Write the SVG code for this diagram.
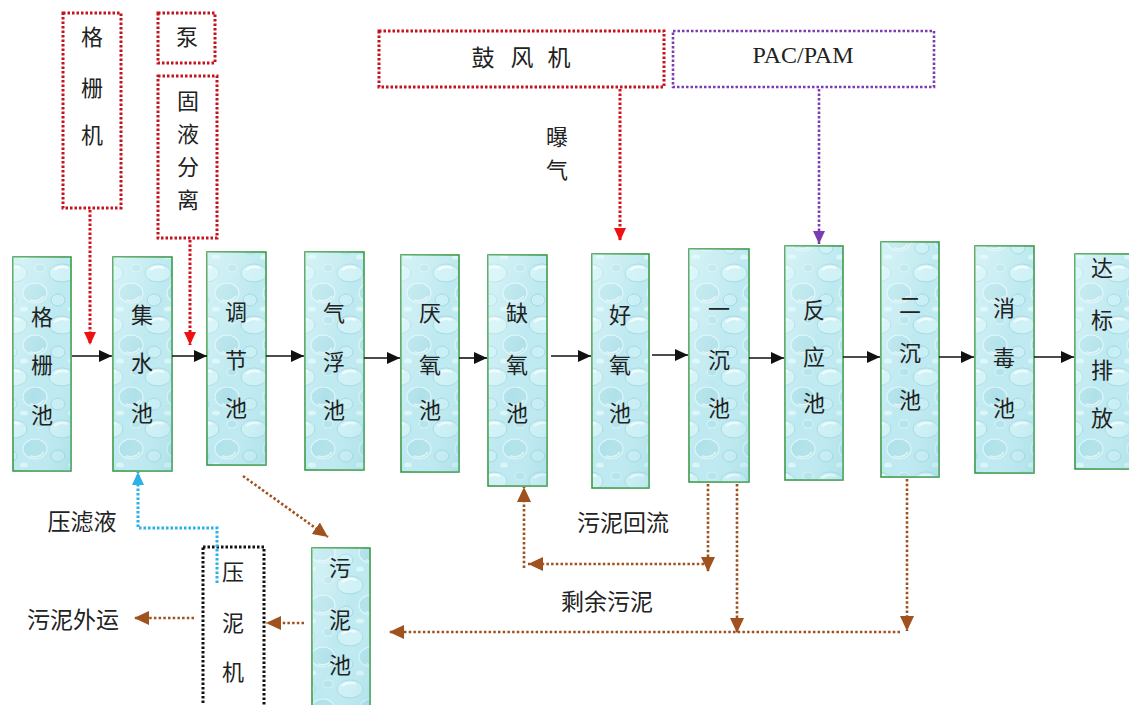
<svg xmlns="http://www.w3.org/2000/svg" width="1129" height="705" viewBox="0 0 1129 705">
<defs>
<pattern id="water" patternUnits="userSpaceOnUse" width="48" height="52">
<rect width="48" height="52" fill="#bde9f0"/>
<ellipse cx="14" cy="13" rx="13" ry="9" fill="#cff2f6" stroke="#a3d9e3" stroke-width="1"/>
<path d="M6,10 Q12,5 20,8" fill="none" stroke="#ffffff" stroke-width="2" opacity="0.75"/>
<ellipse cx="35" cy="33" rx="12" ry="10" fill="#afe1ea" stroke="#dcf7fa" stroke-width="1.2"/>
<path d="M30,40 Q38,43 44,36" fill="none" stroke="#ffffff" stroke-width="1.8" opacity="0.6"/>
<ellipse cx="10" cy="40" rx="7" ry="6" fill="#c8eff5" stroke="#a0d7e1" stroke-width="1"/>
<ellipse cx="40" cy="8" rx="5" ry="4" fill="#b3e3eb" stroke="#e0f8fb" stroke-width="0.8"/>
<ellipse cx="24" cy="49" rx="4" ry="2.5" fill="#d9f6f9"/>
</pattern>
<linearGradient id="shade" x1="0" y1="0" x2="1" y2="1">
<stop offset="0" stop-color="#eafcfd" stop-opacity="0.5"/>
<stop offset="0.5" stop-color="#ffffff" stop-opacity="0"/>
<stop offset="1" stop-color="#86cdda" stop-opacity="0.3"/>
</linearGradient>
<marker id="ab" markerUnits="userSpaceOnUse" markerWidth="14" markerHeight="12" refX="13" refY="6" orient="auto"><path d="M0,0 L13,6 L0,12 Z" fill="#111"/></marker>
<marker id="ar" markerUnits="userSpaceOnUse" markerWidth="14" markerHeight="12" refX="13" refY="6" orient="auto"><path d="M0,0 L13,6 L0,12 Z" fill="#ee1111"/></marker>
<marker id="ap" markerUnits="userSpaceOnUse" markerWidth="14" markerHeight="12" refX="13" refY="6" orient="auto"><path d="M0,0 L13,6 L0,12 Z" fill="#7a3db0"/></marker>
<marker id="an" markerUnits="userSpaceOnUse" markerWidth="16" markerHeight="14" refX="15" refY="7" orient="auto"><path d="M0,0 L15,7 L0,14 Z" fill="#a0521e"/></marker>
<marker id="ac" markerUnits="userSpaceOnUse" markerWidth="14" markerHeight="12" refX="13" refY="6" orient="auto"><path d="M0,0 L13,6 L0,12 Z" fill="#2bb0e8"/></marker>
</defs>
<style>
.tank{fill:url(#water);stroke:#3c9a48;stroke-width:1.6}
.sh{fill:url(#shade);stroke:none}
.t{font-family:"Noto Sans CJK SC","Noto Sans CJK TC",sans-serif;font-size:22px;fill:#222;text-anchor:middle}
.l{font-family:"Noto Sans CJK SC","Noto Sans CJK TC",sans-serif;font-size:23px;fill:#222;text-anchor:middle}
.en{font-family:"Liberation Serif",serif;font-size:24px;fill:#222;text-anchor:middle}
.rbox{fill:none;stroke:#c4121e;stroke-width:3;stroke-dasharray:2.5 2}
.pbox{fill:none;stroke:#7a3db0;stroke-width:2.6;stroke-dasharray:2.5 2}
.kbox{fill:none;stroke:#111;stroke-width:3;stroke-dasharray:2.5 2}
.solid{fill:none;stroke:#111;stroke-width:1.6}
.rd{fill:none;stroke:#d3101c;stroke-width:3;stroke-dasharray:2.5 2}
.pd{fill:none;stroke:#7a3db0;stroke-width:2.6;stroke-dasharray:2.5 2}
.bd{fill:none;stroke:#a0521e;stroke-width:2.6;stroke-dasharray:2.5 2.2}
.cd{fill:none;stroke:#2bb0e8;stroke-width:3;stroke-dasharray:2.5 2}
</style>

<g id="n-geshanji"><rect class="rbox" x="63" y="13" width="58" height="195"/><text class="t" x="92" y="45">格</text><text class="t" x="92" y="96">栅</text><text class="t" x="92" y="143">机</text></g>
<g id="n-beng"><rect class="rbox" x="158" y="13" width="57" height="50"/><text class="t" x="187" y="45">泵</text></g>
<g id="n-guye"><rect class="rbox" x="158" y="76" width="59" height="162"/><text class="t" x="188" y="109">固</text><text class="t" x="188" y="142">液</text><text class="t" x="188" y="175">分</text><text class="t" x="188" y="208">离</text></g>
<g id="n-gufengji"><rect class="rbox" x="379" y="31" width="285" height="56"/><text class="l" x="483" y="66">鼓</text><text class="l" x="522" y="66">风</text><text class="l" x="559" y="66">机</text></g>
<g id="n-pac"><rect class="pbox" x="673" y="31" width="261" height="56"/><text class="en" x="803" y="63">PAC/PAM</text></g>

<g id="n-t1"><rect class="tank" x="13" y="257" width="58" height="214"/><rect class="sh" x="13" y="257" width="58" height="214"/><text class="t" x="42" y="325">格</text><text class="t" x="42" y="373">栅</text><text class="t" x="42" y="423">池</text></g>
<g id="n-t2"><rect class="tank" x="113" y="257" width="59" height="214"/><rect class="sh" x="113" y="257" width="59" height="214"/><text class="t" x="142" y="323">集</text><text class="t" x="142" y="371">水</text><text class="t" x="142" y="421">池</text></g>
<g id="n-t3"><rect class="tank" x="207" y="252" width="59" height="213"/><rect class="sh" x="207" y="252" width="59" height="213"/><text class="t" x="236" y="320">调</text><text class="t" x="236" y="368">节</text><text class="t" x="236" y="416">池</text></g>
<g id="n-t4"><rect class="tank" x="305" y="252" width="59" height="218"/><rect class="sh" x="305" y="252" width="59" height="218"/><text class="t" x="334" y="321">气</text><text class="t" x="334" y="370">浮</text><text class="t" x="334" y="418">池</text></g>
<g id="n-t5"><rect class="tank" x="401" y="255" width="58" height="217"/><rect class="sh" x="401" y="255" width="58" height="217"/><text class="t" x="430" y="321">厌</text><text class="t" x="430" y="373">氧</text><text class="t" x="430" y="418">池</text></g>
<g id="n-t6"><rect class="tank" x="488" y="255" width="59" height="231"/><rect class="sh" x="488" y="255" width="59" height="231"/><text class="t" x="517" y="321">缺</text><text class="t" x="517" y="373">氧</text><text class="t" x="517" y="421">池</text></g>
<g id="n-t7"><rect class="tank" x="592" y="254" width="57" height="234"/><rect class="sh" x="592" y="254" width="57" height="234"/><text class="t" x="620" y="323">好</text><text class="t" x="620" y="373">氧</text><text class="t" x="620" y="421">池</text></g>
<g id="n-t8"><rect class="tank" x="689" y="249" width="60" height="233"/><rect class="sh" x="689" y="249" width="60" height="233"/><text class="t" x="719" y="317">一</text><text class="t" x="719" y="368">沉</text><text class="t" x="719" y="416">池</text></g>
<g id="n-t9"><rect class="tank" x="785" y="246" width="58" height="234"/><rect class="sh" x="785" y="246" width="58" height="234"/><text class="t" x="814" y="318">反</text><text class="t" x="814" y="365">应</text><text class="t" x="814" y="411">池</text></g>
<g id="n-t10"><rect class="tank" x="881" y="242" width="58" height="235"/><rect class="sh" x="881" y="242" width="58" height="235"/><text class="t" x="910" y="313">二</text><text class="t" x="910" y="361">沉</text><text class="t" x="910" y="408">池</text></g>
<g id="n-t11"><rect class="tank" x="975" y="246" width="59" height="227"/><rect class="sh" x="975" y="246" width="59" height="227"/><text class="t" x="1004" y="316">消</text><text class="t" x="1004" y="366">毒</text><text class="t" x="1004" y="416">池</text></g>
<g id="n-t12"><rect class="tank" x="1075" y="254" width="62" height="215"/><rect class="sh" x="1075" y="254" width="62" height="215"/><text class="t" x="1102" y="276">达</text><text class="t" x="1102" y="328">标</text><text class="t" x="1102" y="378">排</text><text class="t" x="1102" y="426">放</text></g>
<g id="n-wunichi"><rect class="tank" x="312" y="548" width="58" height="165"/><rect class="sh" x="312" y="548" width="58" height="165"/><text class="t" x="340" y="576">污</text><text class="t" x="340" y="628">泥</text><text class="t" x="340" y="673">池</text></g>
<g id="n-yaniji"><rect class="kbox" x="203" y="547" width="61" height="170"/><text class="t" x="233" y="580">压</text><text class="t" x="233" y="631">泥</text><text class="t" x="233" y="680">机</text></g>

<g id="labels">
<text class="t" x="557" y="145">曝</text><text class="t" x="557" y="178">气</text>
<text class="l" x="82" y="530">压滤液</text>
<text class="l" x="73" y="628">污泥外运</text>
<text class="l" x="623" y="531">污泥回流</text>
<text class="l" x="607" y="610">剩余污泥</text>
</g>

<g id="connectors">
<path class="solid" marker-end="url(#ab)" d="M72,356 H112"/>
<path class="solid" marker-end="url(#ab)" d="M172,356 H207"/>
<path class="solid" marker-end="url(#ab)" d="M266,356 H304"/>
<path class="solid" marker-end="url(#ab)" d="M364,358 H400"/>
<path class="solid" marker-end="url(#ab)" d="M459,358 H487"/>
<path class="solid" marker-end="url(#ab)" d="M551,356 H591"/>
<path class="solid" marker-end="url(#ab)" d="M652,355 H688"/>
<path class="solid" marker-end="url(#ab)" d="M749,358 H784"/>
<path class="solid" marker-end="url(#ab)" d="M843,357 H880"/>
<path class="solid" marker-end="url(#ab)" d="M939,357 H974"/>
<path class="solid" marker-end="url(#ab)" d="M1034,357 H1074"/>

<path class="rd" marker-end="url(#ar)" d="M90,210 V345"/>
<path class="rd" marker-end="url(#ar)" d="M190,240 V345"/>
<path class="rd" marker-end="url(#ar)" d="M620,89 V241"/>
<path class="pd" marker-end="url(#ap)" d="M819,89 V244"/>

<path class="bd" marker-end="url(#an)" d="M243,476 L328,537"/>
<path class="bd" marker-end="url(#an)" d="M708,484 V572"/>
<path class="bd" marker-end="url(#an)" d="M704,564 H528"/>
<path class="bd" marker-end="url(#an)" d="M524,568 V487"/>
<path class="bd" marker-end="url(#an)" d="M737,484 V633"/>
<path class="bd" marker-end="url(#an)" d="M907,479 V631"/>
<path class="bd" marker-end="url(#an)" d="M900,632 H389"/>
<path class="bd" marker-end="url(#an)" d="M304,623 H266"/>
<path class="bd" marker-end="url(#an)" d="M194,618 H134"/>

<path class="cd" marker-end="url(#ac)" d="M217,583 V528 H138 V472"/>
</g>
</svg>
